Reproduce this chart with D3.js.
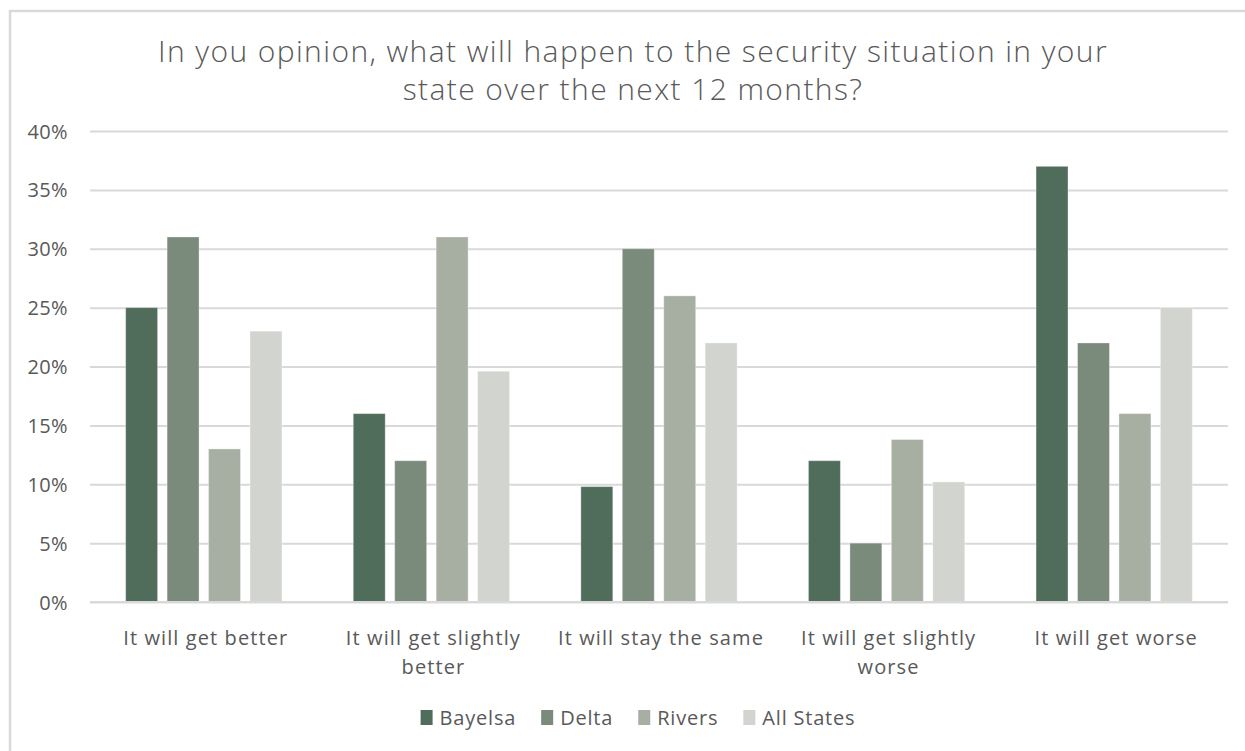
<!DOCTYPE html>
<html>
<head>
<meta charset="utf-8">
<script src="https://cdn.jsdelivr.net/npm/d3@7/dist/d3.min.js"></script>
<style>
  html, body { margin: 0; padding: 0; background: #fff; }
  svg { display: block; }
</style>
</head>
<body>
<svg id="chart" width="1245" height="751"></svg>
<script>
const titleLines = ["In you opinion, what will happen to the security situation in your", "state over the next 12 months?"];
const categories = ["It will get better", "It will get slightly better", "It will stay the same", "It will get slightly worse", "It will get worse"];
const seriesNames = ["Bayelsa", "Delta", "Rivers", "All States"];
const bayelsa   = [25, 16, 9.8, 12, 37];
const delta     = [31, 12, 30, 5, 22];
const rivers    = [13, 31, 26, 13.8, 16];
const allStates = [23, 19.6, 22, 10.2, 25];
const yTicks = [0, 5, 10, 15, 20, 25, 30, 35, 40];
const colors = ["#506c5b", "#7a8a7b", "#a7aea2", "#d2d4cf"];

const seriesValues = [bayelsa, delta, rivers, allStates];
const svg = d3.select("#chart");
const textColor = "#595959";
const gridColor = "#d9d9d9";
const labelFont = "'Open Sans', sans-serif";

// chart border
svg.append("rect").attr("x", 10).attr("y", 11).attr("width", 1245).attr("height", 760)
  .attr("fill", "#fff").attr("stroke", "#d9d9d9").attr("stroke-width", 2.5);

// title
const title = svg.append("text").attr("text-anchor", "middle")
  .attr("font-family", "'Open Sans', sans-serif").attr("font-weight", 300)
  .attr("font-size", 30).attr("letter-spacing", 1.4).attr("fill", textColor);
titleLines.forEach((t, i) => {
  title.append("tspan").attr("x", 633).attr("y", 62 + i * 38).text(t);
});

const x0 = d3.scaleBand().domain(categories).range([90, 1228]).padding(0);
const x1 = d3.scaleBand().domain(seriesNames).range([0, x0.bandwidth()])
  .paddingInner(0.229).paddingOuter(0.86);
const y = d3.scaleLinear().domain([0, 40]).range([602, 131]);

// gridlines
const yAxis = d3.axisLeft(y).tickValues(yTicks).tickFormat(d => d + "%").tickSize(-(1228 - 90));
const gy = svg.append("g").attr("transform", "translate(90,0)").call(yAxis);
gy.select(".domain").remove();
gy.selectAll(".tick line").attr("stroke", gridColor).attr("stroke-width", 2);
gy.selectAll(".tick text").attr("x", -22).attr("fill", textColor)
  .attr("font-family", labelFont).attr("font-size", 20).attr("letter-spacing", 0.4).attr("dy", "0.35em");

// bars
const groups = svg.append("g").selectAll("g").data(categories).join("g")
  .attr("transform", d => `translate(${x0(d)},0)`);
groups.selectAll("rect").data((c, ci) => seriesNames.map((s, si) => ({ s, si, v: seriesValues[si][ci] })))
  .join("rect")
  .attr("x", d => x1(d.s))
  .attr("width", x1.bandwidth())
  .attr("y", d => y(d.v))
  .attr("height", d => y(0) - y(d.v))
  .attr("fill", d => colors[d.si])
  .attr("stroke", "#ffffff").attr("stroke-opacity", 0.35).attr("stroke-width", 1);

// baseline
svg.append("line").attr("x1", 90).attr("x2", 1228).attr("y1", y(0)).attr("y2", y(0))
  .attr("stroke", gridColor).attr("stroke-width", 2);

// x-axis category labels (wrapped)
const xAxis = d3.axisBottom(x0).tickSize(0);
const gx = svg.append("g").attr("transform", `translate(2,${y(0)})`).call(xAxis);
gx.select(".domain").remove();
gx.selectAll(".tick text").attr("fill", textColor).attr("font-family", labelFont)
  .attr("font-size", 20).attr("letter-spacing", 1.1).attr("y", 0).attr("dy", 0)
  .each(function(d) {
    const el = d3.select(this);
    const words = d.split(" ");
    el.text(null);
    const maxW = x0.bandwidth() - 12;
    let lines = [], line = [];
    const probe = el.append("tspan");
    words.forEach(w => {
      const test = line.concat(w).join(" ");
      probe.text(test);
      if (probe.node().getComputedTextLength() > maxW && line.length) {
        lines.push(line.join(" "));
        line = [w];
      } else line = line.concat(w);
    });
    lines.push(line.join(" "));
    probe.remove();
    lines.forEach((l, i) => el.append("tspan").attr("x", 0).attr("y", 43 + i * 29).text(l));
  });

// legend
const legend = svg.append("g");
let lx = 0;
seriesNames.forEach((s, i) => {
  const g = legend.append("g");
  g.append("rect").attr("x", 0).attr("y", -15).attr("width", 12).attr("height", 15).attr("fill", colors[i]);
  const t = g.append("text").attr("x", 19).attr("y", 0).attr("fill", textColor)
    .attr("font-family", labelFont).attr("font-size", 20).attr("letter-spacing", 0.8).text(s);
  const w = 19 + t.node().getComputedTextLength();
  g.attr("transform", `translate(${lx},0)`);
  lx += w + 25;
});
const totalW = lx - 25;
legend.attr("transform", `translate(${638 - totalW / 2},725)`);
</script>
</body>
</html>
